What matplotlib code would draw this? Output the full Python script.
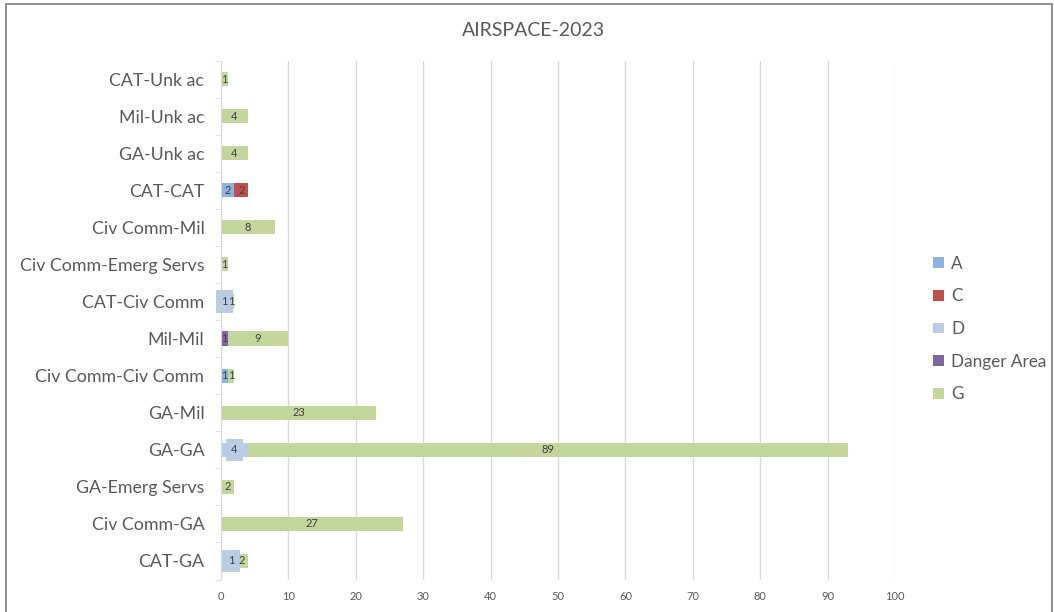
import matplotlib
matplotlib.use('Agg')
import matplotlib.pyplot as plt
from matplotlib.patches import Rectangle
import numpy as np

# categories bottom -> top
categories = ['CAT-GA', 'Civ Comm-GA', 'GA-Emerg Servs', 'GA-GA', 'GA-Mil',
              'Civ Comm-Civ Comm', 'Mil-Mil', 'CAT-Civ Comm', 'Civ Comm-Emerg Servs',
              'Civ Comm-Mil', 'CAT-CAT', 'GA-Unk ac', 'Mil-Unk ac', 'CAT-Unk ac']
series_names = ['A', 'C', 'D', 'Danger Area', 'G']
a_vals = [1, 0, 0, 0, 0, 1, 0, 0, 0, 0, 2, 0, 0, 0]
c_vals = [0, 0, 0, 0, 0, 0, 0, 0, 0, 0, 2, 0, 0, 0]
d_vals = [1, 0, 0, 4, 0, 0, 0, 1, 0, 0, 0, 0, 0, 0]
danger_vals = [0, 0, 0, 0, 0, 0, 1, 0, 0, 0, 0, 0, 0, 0]
g_vals = [2, 27, 2, 89, 23, 1, 9, 1, 1, 8, 0, 4, 4, 1]
colors = ['#8db3e2', '#c0504d', '#b9cde5', '#8064a2', '#c3d69b']

plt.rcParams['font.family'] = ['Lato', 'DejaVu Sans']
txt = '#595959'

fig = plt.figure(figsize=(10.54, 6.12), dpi=100)
ax = fig.add_axes([221/1054, 1-579.5/612, (895-221)/1054, (579.5-60.5)/612])

y = np.arange(len(categories))
left = np.zeros(len(categories))
all_vals = [a_vals, c_vals, d_vals, danger_vals, g_vals]
for k, (name, vals, col) in enumerate(zip(series_names, all_vals, colors)):
    vals = np.array(vals, dtype=float)
    ax.barh(y, vals, left=left, height=0.38, color=col, label=name, zorder=2)
    for yi, (l, v) in enumerate(zip(left, vals)):
        if v > 0:
            if name == 'D':
                ax.text(l + v/2, yi, '%d' % v, ha='center', va='center', fontsize=8,
                        color='#404040', zorder=4,
                        bbox=dict(boxstyle='square,pad=0.5', fc=col, ec='none'))
            else:
                ax.text(l + v/2, yi, '%d' % v, ha='center', va='center', fontsize=8,
                        color='#404040', zorder=3 + 2*(name == 'G'))
    left = left + vals

ax.set_xlim(0, 100)
ax.set_ylim(-0.5, len(categories) - 0.5)
ax.set_xticks(np.arange(0, 101, 10))
ax.set_yticks(y)
ax.set_yticklabels(categories, fontsize=12.8, color=txt)
ax.set_yticks(np.arange(-0.5, len(categories), 1), minor=True)
ax.tick_params(axis='y', which='major', length=0, pad=12)
ax.tick_params(axis='y', which='minor', length=4, color='#d9d9d9')
ax.tick_params(axis='x', length=0, labelsize=8, colors=txt, pad=8)
ax.grid(axis='x', color='#d9d9d9', linewidth=1, zorder=0)
for s in ['top', 'right', 'bottom']:
    ax.spines[s].set_visible(False)
ax.spines['left'].set_color('#d9d9d9')

fig.text(533/1054, 1-30/612, 'AIRSPACE-2023', ha='center', va='center', fontsize=14, color=txt)

leg = ax.legend(loc='center left', bbox_to_anchor=(918/1054, 1-329/612), bbox_transform=fig.transFigure,
                frameon=False, fontsize=12.3, labelcolor=txt, handlelength=0.6, handleheight=0.6,
                handletextpad=0.45, labelspacing=0.98)

fig.patches.append(Rectangle((6/1054, -0.1), 1046/1054, 1.1 - 4/612, transform=fig.transFigure,
                             fill=False, ec='#7f7f7f', lw=1.2))

fig.savefig('out.png', dpi=100)
